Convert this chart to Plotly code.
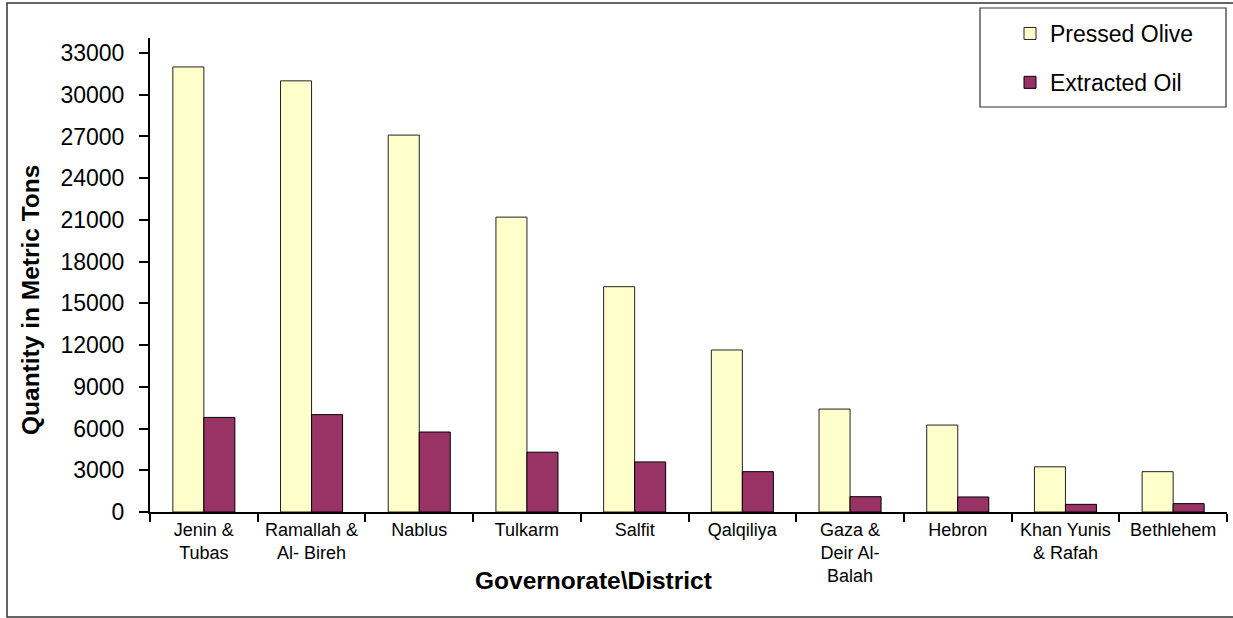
import plotly.graph_objects as go

# Olive pressing season by governorate / district (metric tons)
districts = [
    "Jenin &<br>Tubas", "Ramallah &<br>Al- Bireh", "Nablus", "Tulkarm", "Salfit",
    "Qalqiliya", "Gaza &<br>Deir Al-<br>Balah", "Hebron", "Khan Yunis<br>& Rafah", "Bethlehem",
]
pressed_olive = [32000, 31000, 27100, 21200, 16200, 11650, 7400, 6250, 3250, 2900]
extracted_oil = [6800, 7000, 5750, 4300, 3600, 2900, 1100, 1080, 550, 600]
y_ticks = list(range(0, 33001, 3000))

FONT = "Liberation Sans, Arial, sans-serif"
W, H = 1233, 618
ML, MR, MT, MB = 150, 6, 38, 106
PW, PH = W - ML - MR, H - MT - MB


def px(x):
    return (x - ML) / PW


def py(y):
    return (H - MB - y) / PH


fig = go.Figure()
fig.add_trace(go.Bar(
    x=districts, y=pressed_olive, name="Pressed Olive", legendgroup="a",
    marker=dict(color="#FFFFCC", line=dict(color="#222222", width=1)),
))
fig.add_trace(go.Bar(
    x=districts, y=extracted_oil, name="Extracted Oil", legendgroup="b",
    marker=dict(color="#993366", line=dict(color="#000000", width=1)),
))

fig.update_layout(
    width=W, height=H,
    margin=dict(l=ML, r=MR, t=MT, b=MB),
    paper_bgcolor="white", plot_bgcolor="white",
    font=dict(family=FONT, color="black"),
    barmode="group", bargap=0.424, bargroupgap=0,
    showlegend=True,
    legend=dict(
        x=px(1010), y=py(12), xanchor="left", yanchor="top",
        font=dict(size=23, family=FONT), bgcolor="rgba(0,0,0,0)",
        borderwidth=0, traceorder="grouped", tracegroupgap=16,
    ),
    xaxis=dict(
        type="category", showline=True, linecolor="black", linewidth=2,
        ticks="outside", tickson="boundaries", ticklen=8, tickwidth=2,
        tickcolor="black", tickfont=dict(size=18, family=FONT),
        showgrid=False, zeroline=False,
    ),
    yaxis=dict(
        range=[0, 34080], tickvals=y_ticks, tickformat="d", showline=True,
        linecolor="black", linewidth=2, ticks="outside", ticklen=9, tickwidth=2,
        tickcolor="black", tickfont=dict(size=23, family=FONT), showgrid=False,
        zeroline=False, ticklabelstandoff=10,
    ),
    shapes=[
        # outer chart frame
        dict(type="rect", xref="paper", yref="paper",
             x0=px(7), x1=px(1240), y0=py(617), y1=py(3),
             line=dict(color="#333333", width=1.5), layer="below"),
        # legend box
        dict(type="rect", xref="paper", yref="paper",
             x0=px(980), x1=px(1226), y0=py(107), y1=py(8),
             line=dict(color="#333333", width=1.2), layer="below"),
    ],
    annotations=[
        dict(text="<b>Governorate\\District</b>", xref="paper", yref="paper",
             x=px(593), y=py(580), showarrow=False, font=dict(size=24.5, family=FONT),
             xanchor="center", yanchor="middle"),
        dict(text="<b>Quantity in Metric Tons</b>", xref="paper", yref="paper",
             x=px(30), y=py(300), showarrow=False, textangle=-90,
             font=dict(size=24.5, family=FONT), xanchor="center", yanchor="middle"),
    ],
)

fig.write_html("out.html")
